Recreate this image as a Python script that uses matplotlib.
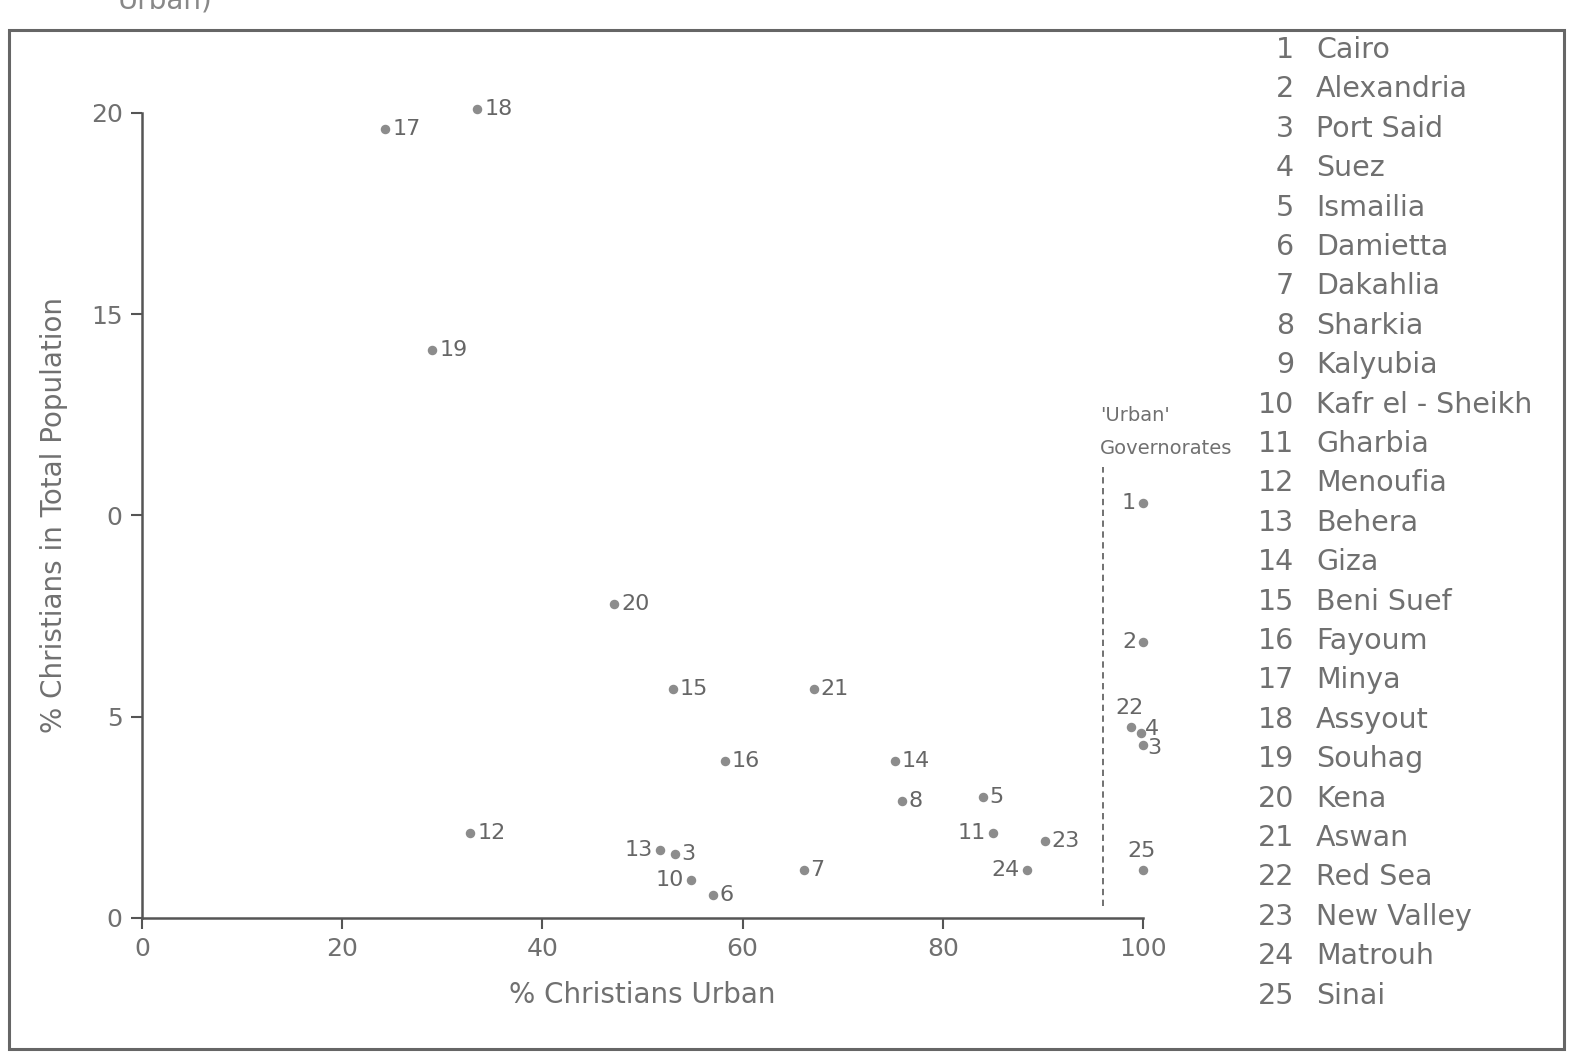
import matplotlib.pyplot as plt
from matplotlib.patches import Rectangle

plt.rcParams['font.family'] = ['DejaVu Sans']

# data
ids = ['17', '18', '19', '20', '15', '21', '16', '14', '8', '5', '12', '11', '23', '24',
       '13', '3', '10', '6', '7', '1', '2', '22', '4', '3', '25']
urban = [24.3, 33.5, 29.0, 47.2, 53.0, 67.1, 58.2, 75.2, 75.9, 84.0, 32.8, 85.0, 90.2, 88.4,
         51.7, 53.2, 54.8, 57.0, 66.1, 100.0, 100.0, 98.8, 99.8, 100.0, 100.0]
total = [19.6, 20.1, 14.1, 7.8, 5.7, 5.7, 3.9, 3.9, 2.9, 3.0, 2.1, 2.1, 1.9, 1.2,
         1.7, 1.6, 0.95, 0.57, 1.2, 10.3, 6.85, 4.75, 4.6, 4.3, 1.2]
# where the number sits next to its dot
side = ['r', 'r', 'r', 'r', 'r', 'r', 'r', 'r', 'r', 'r', 'r', 'l', 'r', 'l',
        'l', 'r', 'l', 'r', 'r', 'l', 'l', 'a', 'ru', 'rd', 'a']

governorates = ['Cairo', 'Alexandria', 'Port Said', 'Suez', 'Ismailia', 'Damietta',
                'Dakahlia', 'Sharkia', 'Kalyubia', 'Kafr el - Sheikh', 'Gharbia',
                'Menoufia', 'Behera', 'Giza', 'Beni Suef', 'Fayoum', 'Minya', 'Assyout',
                'Souhag', 'Kena', 'Aswan', 'Red Sea', 'New Valley', 'Matrouh', 'Sinai']

yticks = [0, 5, 10, 15, 20]
yticklabels = ['0', '5', '0', '15', '20']
xticks = [0, 20, 40, 60, 80, 100]

txt = '#707070'
line = '#555555'

offsets = {'r': ((5, 0), 'left', 'center'), 'l': ((-5, 0), 'right', 'center'),
           'a': ((-1, 6), 'center', 'bottom'), 'ru': ((3, 3), 'left', 'center'),
           'rd': ((3, -2), 'left', 'center')}

fig = plt.figure(figsize=(15.69, 10.55), dpi=100)

# outer frame of the figure box
fig.patches.append(Rectangle((0.006, 0.006), 0.991, 0.966, transform=fig.transFigure,
                             fill=False, edgecolor='#666666', linewidth=2.2))
fig.text(0.075, 1.0, 'Urban)', fontsize=20, color='#888888', va='center', ha='left')

ax = fig.add_axes([0.0905, 0.1299, 0.638, 0.763])
ax.set_xlim(0, 100)
ax.set_ylim(0, 20)
ax.scatter(urban, total, s=34, color='#8c8c8c', clip_on=False, zorder=3)

for i in range(len(ids)):
    off, ha, va = offsets[side[i]]
    ax.annotate(ids[i], (urban[i], total[i]), xytext=off, textcoords='offset points',
                ha=ha, va=va, fontsize=16, color='#666666', annotation_clip=False)

# boundary of the 'urban' governorates
ax.plot([96, 96], [0.3, 11.2], linestyle=(0, (3.5, 2.5)), color='#666666', linewidth=1.3)
ax.text(95.7, 12.49, "'Urban'", fontsize=14, color=txt, ha='left', va='center',
        family=['Liberation Sans Narrow', 'DejaVu Sans'])
ax.text(95.7, 11.67, 'Governorates', fontsize=14, color=txt, ha='left', va='center',
        family=['Liberation Sans Narrow', 'DejaVu Sans'])

for s in ['top', 'right']:
    ax.spines[s].set_visible(False)
for s in ['left', 'bottom']:
    ax.spines[s].set_color(line)
    ax.spines[s].set_linewidth(1.8)
ax.set_xticks(xticks)
ax.set_yticks(yticks)
ax.set_yticklabels(yticklabels)
ax.tick_params(colors=line, labelcolor=txt, labelsize=18, length=8, width=1.5, pad=6)
ax.set_xlabel('% Christians Urban', fontsize=20, color=txt, labelpad=14)
ax.set_ylabel('% Christians in Total Population', fontsize=20, color=txt, labelpad=16)

# key to the governorate numbers
for i, name in enumerate(governorates):
    y = 1 - (50 + i * 39.4) / 1055
    fig.text(1294 / 1569, y, str(i + 1), fontsize=20.5, color=txt, ha='right', va='center')
    fig.text(1316 / 1569, y, name, fontsize=20.5, color=txt, ha='left', va='center')

fig.savefig('out.png', dpi=100, facecolor='white')
